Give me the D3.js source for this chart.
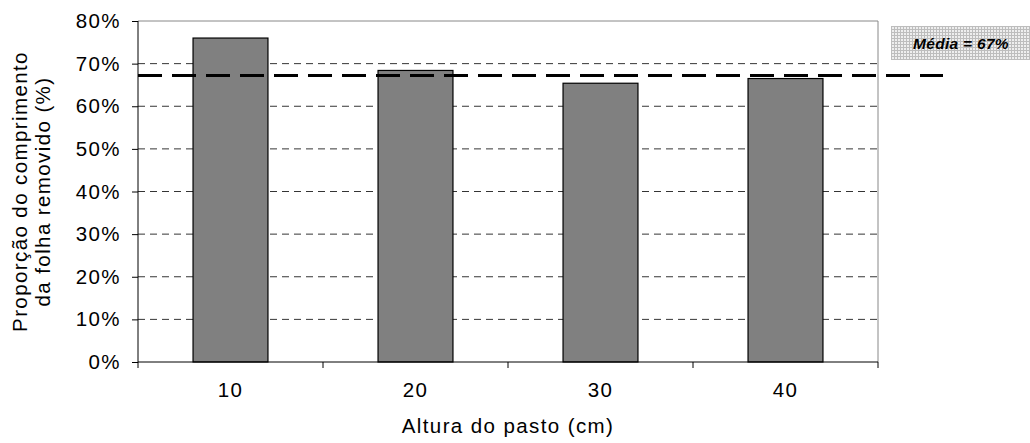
<!DOCTYPE html>
<html>
<head>
<meta charset="utf-8">
<script src="https://cdn.jsdelivr.net/npm/d3@7"></script>
<style>
  body { margin: 0; background: #fff; }
  svg { font-family: "Liberation Sans", Arial, sans-serif; }
</style>
</head>
<body>
<svg id="chart"></svg>
<script>
const alturas = ["10", "20", "30", "40"];
const proporcao = [0.76, 0.684, 0.654, 0.665];
const media = 0.672;
const mediaLabel = "Média = 67%";
const yTicks = [0, 0.1, 0.2, 0.3, 0.4, 0.5, 0.6, 0.7, 0.8];

const W = 1030, H = 443;
const margin = { top: 21, right: 152, bottom: 81, left: 138 };
const width = W - margin.left - margin.right;
const height = H - margin.top - margin.bottom;
const fs = 20.5, ls = "1.4px";

const svg = d3.select("#chart")
  .attr("width", W)
  .attr("height", H);

// hatch pattern for the label box
const defs = svg.append("defs");
const pat = defs.append("pattern")
  .attr("id", "grid")
  .attr("width", 3)
  .attr("height", 3)
  .attr("patternUnits", "userSpaceOnUse");
pat.append("rect").attr("width", 3).attr("height", 3).attr("fill", "#eeeeee");
pat.append("path").attr("d", "M0,0.5H3M0.5,0V3").attr("stroke", "#bdbdbd").attr("stroke-width", 1);

const chart = svg.append("g")
  .attr("transform", `translate(${margin.left},${margin.top})`);

const x = d3.scaleBand()
  .domain(alturas)
  .range([0, width])
  .paddingInner(0.595)
  .paddingOuter(0.2975);

const xTicks = d3.scaleBand().domain(alturas).range([0, width]);

const y = d3.scaleLinear()
  .domain([0, 0.8])
  .range([height, 0]);

// gridlines
chart.append("g")
  .selectAll("line")
  .data(yTicks.filter(d => d > 0 && d < 0.8))
  .join("line")
  .attr("x1", 0)
  .attr("x2", width)
  .attr("y1", d => y(d))
  .attr("y2", d => y(d))
  .attr("stroke", "#000")
  .attr("stroke-width", 0.8)
  .attr("stroke-dasharray", "7,5");

// top and right frame
chart.append("path")
  .attr("d", `M0,${y(0.8)}H${width}V${height}`)
  .attr("fill", "none")
  .attr("stroke", "#888")
  .attr("stroke-width", 1);

// bars
chart.selectAll("rect.bar")
  .data(proporcao)
  .join("rect")
  .attr("class", "bar")
  .attr("x", (d, i) => x(alturas[i]))
  .attr("y", d => y(d))
  .attr("width", x.bandwidth())
  .attr("height", d => height - y(d))
  .attr("fill", "#808080")
  .attr("stroke", "#000")
  .attr("stroke-width", 1.2);

// y axis
const yAxis = d3.axisLeft(y)
  .tickValues(yTicks)
  .tickFormat(d3.format(".0%"))
  .tickSize(6)
  .tickPadding(11);

const ya = chart.append("g").call(yAxis);
ya.select(".domain").attr("stroke", "#000").attr("d", `M0,${height}V0`);
ya.selectAll("text")
  .attr("font-size", fs)
  .attr("letter-spacing", ls)
  .attr("fill", "#000")
  .attr("font-family", "Liberation Sans, Arial, sans-serif");

// x axis with ticks at category boundaries
const xa = chart.append("g").attr("transform", `translate(0,${height})`);
xa.append("line").attr("x1", 0).attr("x2", width).attr("stroke", "#000");
xa.selectAll("line.tk")
  .data(alturas.map(a => xTicks(a)).concat([width]))
  .join("line")
  .attr("class", "tk")
  .attr("x1", d => d).attr("x2", d => d)
  .attr("y1", 0).attr("y2", 6)
  .attr("stroke", "#000");
xa.selectAll("text")
  .data(alturas)
  .join("text")
  .attr("x", d => xTicks(d) + xTicks.bandwidth() / 2)
  .attr("y", 35)
  .attr("text-anchor", "middle")
  .attr("font-size", fs)
  .attr("letter-spacing", ls)
  .text(d => d);

// mean line
chart.append("line")
  .attr("x1", 0)
  .attr("x2", 805)
  .attr("y1", y(media))
  .attr("y2", y(media))
  .attr("stroke", "#000")
  .attr("stroke-width", 3)
  .attr("stroke-dasharray", "24,10");

// mean label box
const box = svg.append("g").attr("transform", `translate(891,26)`);
box.append("rect")
  .attr("width", 139)
  .attr("height", 34)
  .attr("fill", "url(#grid)");
box.append("text")
  .attr("x", 70)
  .attr("y", 22.5)
  .attr("text-anchor", "middle")
  .attr("font-size", 15.5)
  .attr("letter-spacing", "0.3px")
  .attr("font-weight", "bold")
  .attr("font-style", "italic")
  .text(mediaLabel);

// axis titles
svg.append("text")
  .attr("x", margin.left + width / 2)
  .attr("y", 433)
  .attr("text-anchor", "middle")
  .attr("font-size", fs)
  .attr("letter-spacing", ls)
  .text("Altura do pasto (cm)");

const yt = svg.append("text")
  .attr("transform", `translate(27,${margin.top + height / 2}) rotate(-90)`)
  .attr("text-anchor", "middle")
  .attr("font-size", fs)
  .attr("letter-spacing", ls);
yt.append("tspan").attr("x", 0).attr("dy", 0).text("Proporção do comprimento");
yt.append("tspan").attr("x", 0).attr("dy", 23).text("da folha removido (%)");
</script>
</body>
</html>
